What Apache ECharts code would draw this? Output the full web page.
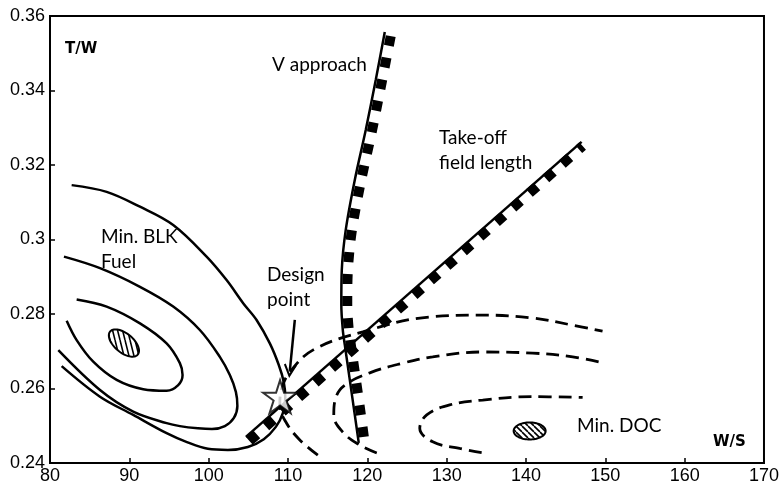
<!DOCTYPE html>
<html><head><meta charset="utf-8">
<script src="https://cdn.jsdelivr.net/npm/echarts@6/dist/echarts.min.js"></script>
<style>html,body{margin:0;padding:0;background:#fff}#c{width:782px;height:488px}</style>
</head><body><div id="c"></div>
<script>
// ---- data ----
const xTicks = [80, 90, 100, 110, 120, 130, 140, 150, 160, 170];
const yTickLabels = ['0.24', '0.26', '0.28', '0.3', '0.32', '0.34', '0.36'];

// Min. block fuel contours (solid)
const blkOuter = [[82.73,0.3146],[87.14,0.3128],[91.34,0.3088],[95.53,0.3039],[99.74,0.2954],[102.26,0.2891],[104.35,0.2829],[106.04,0.2784],[107.71,0.2721],[108.84,0.2663],[109.47,0.2617],[109.66,0.2575],[109.35,0.2534],[108.47,0.2497],[106.95,0.2464],[104.94,0.2443],[102.42,0.2435],[99.90,0.2438],[97.26,0.2456],[94.70,0.2480],[90.49,0.2529],[86.30,0.2578],[81.47,0.2660]];
const blkMiddle = [[81.76,0.2954],[86.30,0.2923],[91.34,0.2873],[95.53,0.2820],[98.89,0.2757],[101.41,0.2685],[102.67,0.2636],[103.43,0.2591],[103.62,0.2553],[103.18,0.2521],[102.04,0.2499],[100.41,0.2491],[98.64,0.2493],[96.37,0.2499],[94.70,0.2507],[90.49,0.2538],[86.30,0.2596],[81.05,0.2703]];
const blkInner = [[83.36,0.2839],[87.14,0.2820],[91.34,0.2775],[94.70,0.2721],[96.37,0.2668],[96.71,0.2636],[96.16,0.2609],[94.70,0.2594],[91.75,0.2598],[88.40,0.2623],[85.45,0.2672],[83.36,0.2730],[82.10,0.2782]];

// Min. DOC contours (dashed)
const docOuter = [[113.76,0.2421],[111.49,0.2462],[109.73,0.2510],[108.97,0.2556],[109.22,0.2601],[110.23,0.2644],[113.13,0.2703],[119.43,0.2752],[127.86,0.2792],[134.54,0.2797],[140.84,0.2789],[145.88,0.2770],[149.65,0.2754]];
const docMiddle = [[121.19,0.2427],[119.05,0.2448],[116.91,0.2483],[115.77,0.2529],[116.02,0.2575],[117.16,0.2609],[120.31,0.2642],[124.46,0.2668],[128.24,0.2685],[134.54,0.2698],[140.84,0.2695],[145.88,0.2685],[149.28,0.2671]];
const docInner = [[134.41,0.2428],[131.64,0.2439],[128.24,0.2457],[126.61,0.2493],[127.49,0.2529],[130.38,0.2556],[134.54,0.2569],[140.84,0.2578],[147.14,0.2576]];

// Constraints
const vApproachLine  = [[122.20,0.3557],[121.06,0.3428],[119.80,0.3294],[118.42,0.3160],[117.28,0.3026],[116.78,0.2918],[116.72,0.2824],[116.91,0.2757],[117.16,0.2717],[117.79,0.2623],[118.42,0.2529],[118.92,0.2454]];
const vApproachHatch = [[122.95,0.3546],[121.82,0.3423],[120.56,0.3289],[119.17,0.3154],[118.04,0.3023],[117.54,0.2915],[117.47,0.2824],[117.66,0.2757],[117.91,0.2719],[118.54,0.2626],[119.17,0.2532],[119.61,0.2462]];
const takeoffLine  = [[104.69,0.2470],[147.01,0.3262]];
const takeoffHatch = [[105.14,0.2459],[147.14,0.3251]];

const designPoint = [[109.0,0.2578]];
const designArrow = [[110.86,0.2784],[110.23,0.2647]];
const blkMinimum = [[89.32,0.2722]];
const docMinimum = [[140.46,0.2486]];

// ---- patterns ----
function slantPattern(w, h, lw) {
  const c = document.createElement('canvas');
  c.width = w; c.height = h;
  const g = c.getContext('2d');
  g.fillStyle = '#fff'; g.fillRect(0, 0, w, h);
  g.strokeStyle = '#000'; g.lineWidth = lw;
  for (let k = -1; k <= 1; k++) {
    g.beginPath(); g.moveTo(k * w, 0); g.lineTo(k * w + w, h); g.stroke();
  }
  return { image: c, repeat: 'repeat' };
}
const blkPattern = slantPattern(5, 20, 1.6);
const docPattern = slantPattern(6, 6, 1.6);

function ellipseItem(rx, ry, rotDeg, pattern) {
  return function (params, api) {
    const c = api.coord([api.value(0), api.value(1)]);
    const r = rotDeg * Math.PI / 180;
    const pts = [];
    for (let i = 0; i < 72; i++) {
      const t = i / 72 * Math.PI * 2;
      const ex = rx * Math.cos(t), ey = ry * Math.sin(t);
      pts.push([c[0] + ex * Math.cos(r) - ey * Math.sin(r), c[1] + ex * Math.sin(r) + ey * Math.cos(r)]);
    }
    return { type: 'polygon', shape: { points: pts }, style: { fill: pattern, stroke: '#000', lineWidth: 2 } };
  };
}

const solid = { color: '#000', width: 2.5 };
const dashed = { color: '#000', width: 2.8, type: [13, 7] };
const hatch = { color: '#000', width: 10, type: [10, 12], cap: 'butt' };
function lineSeries(data, style, smooth, z) {
  return { type: 'line', data: data, smooth: smooth, showSymbol: false, symbol: 'none', lineStyle: style, silent: true, z: z || 2, animation: false };
}

const starPath = 'path://M0,-50 L11.17,-15.37 L47.55,-15.45 L18.07,5.87 L29.39,40.45 L0,19 L-29.39,40.45 L-18.07,5.87 L-47.55,-15.45 L-11.17,-15.37 Z';
const chevronPath = 'path://M0,0 L7.5,13 L5.5,14 L0,4.5 L-5.5,14 L-7.5,13 Z';
const textFont = 'Lato, "Open Sans", sans-serif';
const tickFont = '"Liberation Sans", Arial, sans-serif';

const chart = echarts.init(document.getElementById('c'), null, { renderer: 'canvas' });
chart.setOption({
  animation: false,
  backgroundColor: '#fff',
  grid: { left: 50, right: 17.5, top: 16, bottom: 25, show: true, borderColor: '#000', borderWidth: 2, backgroundColor: 'transparent' },
  xAxis: {
    type: 'value', min: xTicks[0], max: xTicks[xTicks.length - 1], interval: 10,
    axisLine: { lineStyle: { color: '#000', width: 2 } },
    axisTick: { inside: true, length: 5, lineStyle: { color: '#000', width: 1.5 } },
    axisLabel: { color: '#000', fontFamily: tickFont, fontSize: 18, margin: 4 },
    splitLine: { show: false }
  },
  yAxis: {
    type: 'value', min: 0.24, max: 0.36, interval: 0.02,
    axisLine: { lineStyle: { color: '#000', width: 2 } },
    axisTick: { inside: true, length: 5, lineStyle: { color: '#000', width: 1.5 } },
    axisLabel: { color: '#000', fontFamily: tickFont, fontSize: 18, margin: 5,
      formatter: function (v) { return yTickLabels[Math.round((v - 0.24) / 0.02)]; } },
    splitLine: { show: false }
  },
  series: [
    lineSeries(blkOuter, solid, 0.35),
    lineSeries(blkMiddle, solid, 0.35),
    lineSeries(blkInner, solid, 0.35),
    lineSeries(docOuter, dashed, 0.4),
    lineSeries(docMiddle, dashed, 0.4),
    lineSeries(docInner, dashed, 0.4),
    lineSeries(vApproachHatch, hatch, 0.3, 3),
    lineSeries(takeoffHatch, hatch, false, 3),
    lineSeries(vApproachLine, solid, 0.3, 4),
    lineSeries(takeoffLine, solid, false, 4),
    { type: 'custom', data: blkMinimum, renderItem: ellipseItem(18, 9.5, 40, blkPattern), silent: true, z: 5 },
    { type: 'custom', data: docMinimum, renderItem: ellipseItem(16, 8.5, 0, docPattern), silent: true, z: 5 },
    {
      type: 'scatter', data: designPoint, symbol: starPath, symbolSize: [34, 33],
      itemStyle: { color: '#fff', borderColor: '#000', borderWidth: 2 }, silent: true, z: 6,
      markLine: {
        silent: true, symbol: ['none', chevronPath], symbolSize: [13, 14],
        lineStyle: { color: '#000', width: 2.5, type: 'solid' }, label: { show: false },
        data: [[{ coord: designArrow[0] }, { coord: designArrow[1] }]]
      }
    }
  ],
  graphic: [
    { type: 'text', left: 272, top: 55, style: { text: 'V approach', font: '19px ' + textFont, fill: '#000' } },
    { type: 'text', left: 439, top: 125, style: { text: 'Take-off\nfield length', font: '19px ' + textFont, fill: '#000', lineHeight: 25 } },
    { type: 'text', left: 101, top: 224, style: { text: 'Min. BLK\nFuel', font: '19px ' + textFont, fill: '#000', lineHeight: 25 } },
    { type: 'text', left: 267, top: 262, style: { text: 'Design\npoint', font: '19px ' + textFont, fill: '#000', lineHeight: 25 } },
    { type: 'text', left: 577, top: 416, style: { text: 'Min. DOC', font: '19px ' + textFont, fill: '#000' } },
    { type: 'text', left: 65, top: 42, style: { text: 'T/W', font: 'bold 15px "DejaVu Sans", sans-serif', fill: '#000' } },
    { type: 'text', left: 713, top: 435, style: { text: 'W/S', font: 'bold 15px "DejaVu Sans", sans-serif', fill: '#000' } }
  ]
});
</script>
</body></html>
